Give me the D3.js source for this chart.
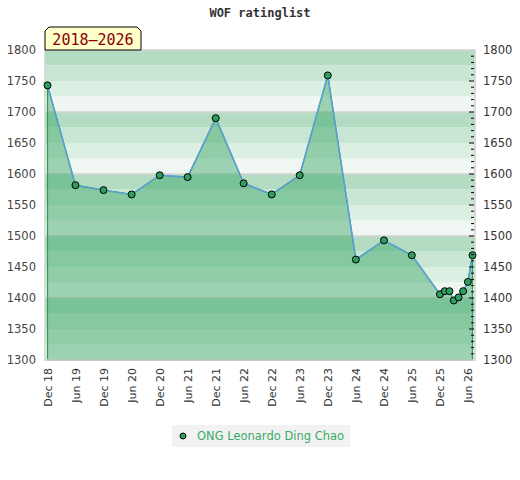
<!DOCTYPE html>
<html>
<head>
<meta charset="utf-8" />
<title>WOF ratinglist</title>
<script src="https://d3js.org/d3.v7.min.js"></script>
<style>
  body { margin: 0; padding: 0; background: #fff; }
  svg text { font-family: "DejaVu Sans", sans-serif; }
</style>
</head>
<body>
<div id="chart"></div>
<script>

// rating list months and ratings
const months = [
  '2018-12', '2019-06', '2019-12', '2020-06', '2020-12', '2021-06',
  '2021-12', '2022-06', '2022-12', '2023-06', '2023-12', '2024-06',
  '2024-12', '2025-06', '2025-12', '2026-01', '2026-02', '2026-03',
  '2026-04', '2026-05', '2026-06', '2026-07'
]
const ratings = [
  1743, 1582, 1574, 1567, 1598, 1595,
  1690, 1585, 1567, 1598, 1759, 1462,
  1493, 1469, 1406, 1411, 1411, 1396,
  1401, 1411, 1426, 1469
]
const yTicks = [1300, 1350, 1400, 1450, 1500, 1550, 1600, 1650, 1700, 1750, 1800]
const xTickFirst = '2018-12', xTickLast = '2026-06'
const playerName = 'ONG Leonardo Ding Chao'
const periodLabel = '2018\u20132026'
const chartTitle = 'WOF ratinglist'

const parseMonth = d3.timeParse('%Y-%m')
const data = months.map((m, i) => ({ date: parseMonth(m), value: ratings[i] }))

const width = 520, height = 480
const frame = { left: 45, right: 475, top: 50, bottom: 360 }

const svg = d3.select('#chart').append('svg')
  .attr('width', width)
  .attr('height', height)

const x = d3.scaleTime()
  .domain(d3.extent(data, d => d.date))
  .range([47.5, 472.5])
const y = d3.scaleLinear()
  .domain([1300, 1800])
  .range([frame.bottom, frame.top])

// title
svg.append('text')
  .attr('x', 260)
  .attr('y', 17)
  .attr('text-anchor', 'middle')
  .style('font-family', '"DejaVu Sans Mono", monospace')
  .style('font-weight', 'bold')
  .style('font-size', '12px')
  .attr('fill', '#333')
  .text(chartTitle)

// striped background, 25 point bands
const bandColors = ['#f0f7f2', '#dcefe3', '#c8e6d3', '#b3dcc3']
const bands = d3.range(1300, 1800, 25)
svg.append('g').selectAll('rect')
  .data(bands)
  .enter()
  .append('rect')
    .attr('x', frame.left)
    .attr('width', frame.right - frame.left)
    .attr('y', d => y(d + 25))
    .attr('height', d => y(d) - y(d + 25))
    .attr('fill', d => bandColors[((d - 1300) / 25) % 4])

// grid every 100
svg.append('g').selectAll('line')
  .data(d3.range(1400, 1800, 100))
  .enter()
  .append('line')
    .attr('x1', frame.left).attr('x2', frame.right)
    .attr('y1', d => y(d)).attr('y2', d => y(d))
    .attr('stroke', '#d4d4d4')
    .attr('stroke-width', 1.5)

// area
svg.append('path')
  .datum(data)
  .attr('fill', '#2fa05c')
  .attr('fill-opacity', 0.43)
  .attr('stroke', '#2f9a55')
  .attr('stroke-width', 1.2)
  .attr('d', d3.area()
    .x(d => x(d.date))
    .y0(y(1300))
    .y1(d => y(d.value)))

// frame
svg.append('rect')
  .attr('x', frame.left)
  .attr('y', frame.top)
  .attr('width', frame.right - frame.left)
  .attr('height', frame.bottom - frame.top)
  .attr('fill', 'none')
  .attr('stroke', '#d0d0d0')
  .attr('stroke-width', 1.5)

// line
svg.append('path')
  .datum(data)
  .attr('fill', 'none')
  .attr('stroke', '#5b9fd8')
  .attr('stroke-width', 1.5)
  .attr('d', d3.line()
    .x(d => x(d.date))
    .y(d => y(d.value)))

// points
svg.append('g').selectAll('circle')
  .data(data)
  .enter()
  .append('circle')
    .attr('cx', d => x(d.date))
    .attr('cy', d => y(d.value))
    .attr('r', 3.5)
    .attr('fill', '#2e9e5e')
    .attr('stroke', '#000')
    .attr('stroke-width', 1)

// left axis labels
const leftAxis = svg.append('g')
  .attr('transform', 'translate(' + (frame.left - 9) + ',0)')
  .call(d3.axisLeft(y).tickValues(yTicks).tickSize(0).tickPadding(0).tickFormat(d3.format('d')))
leftAxis.select('.domain').remove()
leftAxis.selectAll('text').style('font-size', '11.5px').attr('fill', '#444')

// right axis: labels plus inward ticks
const rightAxis = svg.append('g')
  .attr('transform', 'translate(' + (frame.right + 8) + ',0)')
  .call(d3.axisRight(y).tickValues(yTicks).tickSize(0).tickPadding(0).tickFormat(d3.format('d')))
rightAxis.select('.domain').remove()
rightAxis.selectAll('text').style('font-size', '11.5px').attr('fill', '#333')

svg.append('g').selectAll('line')
  .data(d3.range(1310, 1800, 10))
  .enter()
  .append('line')
    .attr('x1', d => d % 50 == 0 ? frame.right - 6 : frame.right - 4)
    .attr('x2', frame.right - 1)
    .attr('y1', d => y(d)).attr('y2', d => y(d))
    .attr('stroke', '#000')
    .attr('stroke-width', 1)

// x axis, every six months starting Dec 18
const xTicks = d3.timeMonth.range(parseMonth(xTickFirst), d3.timeMonth.offset(parseMonth(xTickLast), 1), 6)
const xAxis = svg.append('g')
  .attr('transform', 'translate(0,' + frame.bottom + ')')
  .call(d3.axisBottom(x).tickValues(xTicks).tickSize(0).tickFormat(d3.timeFormat('%b %y')))
xAxis.select('.domain').remove()
xAxis.selectAll('text')
  .style('font-size', '11px')
  .attr('fill', '#333')
  .attr('text-anchor', 'end')
  .attr('dy', '0.35em')
  .attr('transform', 'translate(0,8) rotate(-90)')
  .attr('x', 0)
  .attr('y', 0)

// period label box with cut corners
const bx0 = 45, bx1 = 141, by0 = 27, by1 = 50, cut = 4
svg.append('path')
  .attr('d', 'M' + bx0 + ',' + by1 + 'L' + bx0 + ',' + (by0 + cut) + 'L' + (bx0 + cut) + ',' + by0 +
    'L' + (bx1 - cut) + ',' + by0 + 'L' + bx1 + ',' + (by0 + cut) + 'L' + bx1 + ',' + by1 + 'Z')
  .attr('fill', '#ffffcc')
  .attr('stroke', '#000')
  .attr('stroke-width', 1)
svg.append('text')
  .attr('x', (bx0 + bx1) / 2)
  .attr('y', 45)
  .attr('text-anchor', 'middle')
  .style('font-family', '"DejaVu Sans Mono", monospace')
  .style('font-size', '15px')
  .attr('fill', '#8b0000')
  .text(periodLabel)

// legend
const legend = svg.append('g')
legend.append('rect')
  .attr('x', 172).attr('y', 425)
  .attr('width', 178).attr('height', 22)
  .attr('fill', '#f2f2f2')
legend.append('circle')
  .attr('cx', 183).attr('cy', 436)
  .attr('r', 3)
  .attr('fill', '#2e9e5e')
  .attr('stroke', '#000')
legend.append('text')
  .attr('x', 197).attr('y', 440)
  .style('font-size', '11.5px')
  .attr('fill', '#3aaa66')
  .text(playerName)

</script>
</body>
</html>
